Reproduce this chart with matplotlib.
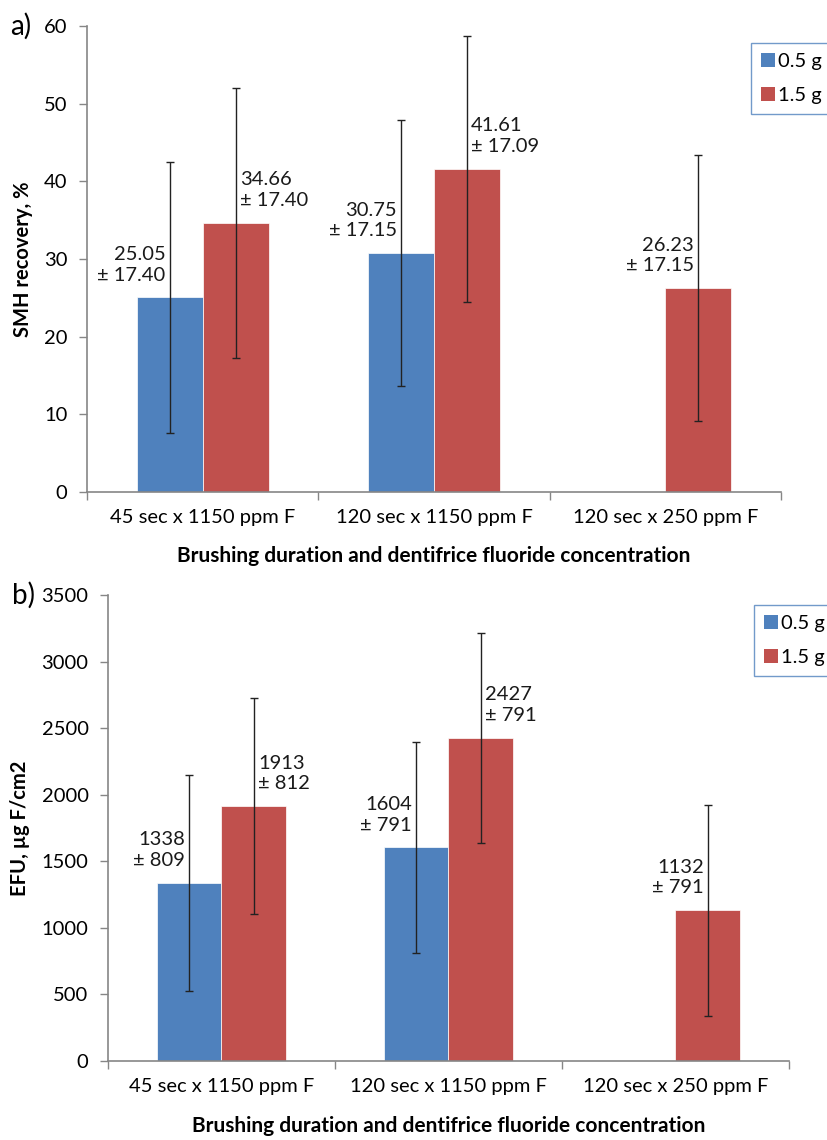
import numpy as np
import matplotlib
matplotlib.use("Agg")
import matplotlib.pyplot as plt
from matplotlib.patches import Patch

plt.rcParams["font.family"] = ["Lato", "DejaVu Sans"]

# data
categories = ["45 sec x 1150 ppm F", "120 sec x 1150 ppm F", "120 sec x 250 ppm F"]
series_names = ["0.5 g", "1.5 g"]

smh_low = [25.05, 30.75, np.nan]
smh_low_sd = [17.40, 17.15, np.nan]
smh_high = [34.66, 41.61, 26.23]
smh_high_sd = [17.40, 17.09, 17.15]

efu_low = [1338, 1604, np.nan]
efu_low_sd = [809, 791, np.nan]
efu_high = [1913, 2427, 1132]
efu_high_sd = [812, 791, 791]

# which side of the error bar each data label sits on (-1 left, +1 right)
smh_low_side = [-1, -1, -1]
smh_high_side = [1, 1, -1]
efu_low_side = [-1, -1, -1]
efu_high_side = [1, 1, -1]

BLUE = "#4F81BD"
RED = "#C0504D"
AXC = "#868686"
FS = 14.5

W, H = 828, 1140
fig = plt.figure(figsize=(W / 100, H / 100), dpi=100)


def px_axes(x0, y0, x1, y1):
    return fig.add_axes([x0 / W, 1 - y1 / H, (x1 - x0) / W, (y1 - y0) / H])


def label_text(v, sd, fmt):
    return f"{v:{fmt}}\n± {sd:{fmt}}"


def draw_panel(ax, low, low_sd, high, high_sd, low_side, high_side, ymax, ystep,
               fmt, ylabel, letter, letter_x, legend_box):
    x = np.arange(len(categories))
    bw = 0.286
    series = [(low, low_sd, low_side, BLUE, -bw / 2), (high, high_sd, high_side, RED, bw / 2)]
    for vals, sds, sides, col, off in series:
        for xi, v, sd, side in zip(x, vals, sds, sides):
            if np.isnan(v):
                continue
            ax.bar(xi + off, v, bw, color=col, edgecolor="white", linewidth=0.5, zorder=2)
            ax.errorbar(xi + off, v, yerr=sd, fmt="none", ecolor="#222222",
                        elinewidth=1.0, capsize=3, capthick=1.0, zorder=3)
            ax.annotate(label_text(v, sd, fmt), xy=(xi + off, v),
                        xytext=(3 * side, 10), textcoords="offset points",
                        ha="left" if side > 0 else "right", va="bottom",
                        fontsize=FS, linespacing=1.25, color="#1a1a1a", zorder=4)

    ax.set_xlim(-0.5, len(categories) - 0.5)
    ax.set_ylim(0, ymax)
    ax.set_yticks(np.arange(0, ymax + 1, ystep))
    ax.set_xticks(x)
    ax.set_xticklabels(categories, fontsize=FS)
    ax.set_xticks(np.arange(-0.5, len(categories), 1), minor=True)
    ax.tick_params(axis="x", which="major", length=0, pad=12)
    ax.tick_params(axis="x", which="minor", length=6, color=AXC, width=1)
    ax.tick_params(axis="y", length=6, color=AXC, width=1, labelsize=FS, pad=8)
    for s in ["top", "right"]:
        ax.spines[s].set_visible(False)
    for s in ["left", "bottom"]:
        ax.spines[s].set_color(AXC)
        ax.spines[s].set_linewidth(1.2)

    ax.set_xlabel("Brushing duration and dentifrice fluoride concentration",
                  fontsize=15, fontweight="bold", labelpad=15)
    ax.set_ylabel(ylabel, fontsize=FS, fontweight="bold", labelpad=8)
    fig.text(letter_x / W, ax.get_position().y1, letter,
             fontsize=20, ha="left", va="center")

    handles = [Patch(facecolor=BLUE), Patch(facecolor=RED)]
    lx0, ly0, lx1, ly1 = legend_box
    leg = fig.legend(handles, series_names, loc="upper left",
                     bbox_to_anchor=(lx0 / W, 1 - ly1 / H, (lx1 - lx0) / W, (ly1 - ly0) / H),
                     mode="expand", fontsize=FS, handlelength=0.7, handleheight=0.7,
                     handletextpad=0.15, labelspacing=0.85, borderpad=0.5,
                     fancybox=False, borderaxespad=0)
    leg.get_frame().set_edgecolor(BLUE)
    leg.get_frame().set_linewidth(1.0)


ax1 = px_axes(87, 26, 781, 492)
draw_panel(ax1, smh_low, smh_low_sd, smh_high, smh_high_sd, smh_low_side, smh_high_side,
           60, 10, ".2f", "SMH recovery, %", "a)", 10, (751, 43, 845, 120))

ax2 = px_axes(108, 595, 789, 1061)
draw_panel(ax2, efu_low, efu_low_sd, efu_high, efu_high_sd, efu_low_side, efu_high_side,
           3500, 500, ".0f", "EFU, µg F/cm2", "b)", 12, (754, 605, 845, 682))

fig.savefig("out.png", dpi=100)
